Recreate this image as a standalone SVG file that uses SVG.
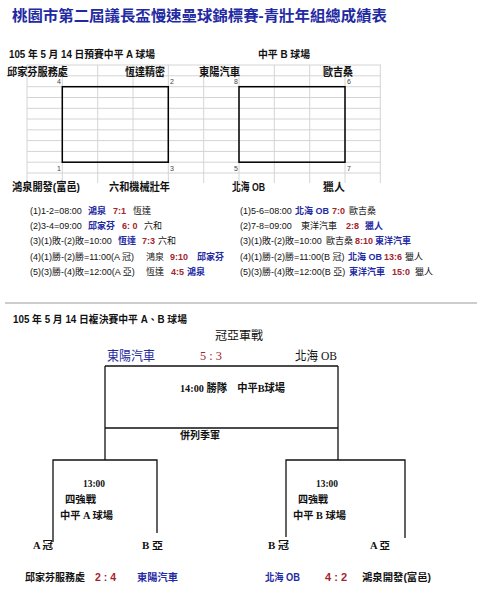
<svg xmlns="http://www.w3.org/2000/svg" width="493" height="600" viewBox="0 0 493 600">
<style>
text{font-family:"Liberation Sans","Noto Sans CJK TC",sans-serif;fill:#111}
.s{font-family:"Liberation Serif","Noto Sans CJK TC",serif}
.b{font-weight:bold}
.bl{fill:#1f2aa3}
.rd{fill:#a3252d}
.r{font-size:9px}
.n{font-size:7px;fill:#444}
.g{stroke:#d4d4d4;stroke-width:1;fill:none}
.box{stroke:#000;stroke-width:1.5;fill:none}
.ln{stroke:#111;stroke-width:1.3;fill:none}
</style>
<rect width="493" height="600" fill="#fff"/>
<g id="title"><text x="12" y="20.5" class="b bl" font-size="15" textLength="375" lengthAdjust="spacingAndGlyphs">桃園市第二屆議長盃慢速壘球錦標賽-青壯年組總成績表</text></g>
<g id="prelim-header">
<text x="9" y="58" class="b" font-size="10.5" textLength="146" lengthAdjust="spacingAndGlyphs">105 年 5 月 14 日預賽中平 A 球場</text>
<text x="258" y="58" class="b" font-size="10.5" textLength="52" lengthAdjust="spacingAndGlyphs">中平 B 球場</text>
</g>
<g id="grid">
<path class="g" d="M27 65H381M27 75.8H381M27 86.7H381M27 97.5H381M27 108.3H381M27 119H381M27 129.8H381M27 140.6H381M27 151.4H381M27 162.2H381M27 173H381"/>
<path class="g" d="M27 65V183M62.3 65V183M97.7 65V183M133 65V183M168.3 65V183M203.7 65V183M239 65V183M274.3 65V183M309.7 65V183M345 65V183M380.3 65V183"/>
</g>
<g id="groupA">
<rect class="box" x="62.3" y="86.7" width="106" height="75.5"/>
<text x="7" y="76" class="b" font-size="11" textLength="61" lengthAdjust="spacingAndGlyphs">邱家芬服務處</text>
<text x="125" y="76" class="b" font-size="11" textLength="40" lengthAdjust="spacingAndGlyphs">恆達精密</text>
<text x="12" y="191" class="b" font-size="11" textLength="68" lengthAdjust="spacingAndGlyphs">鴻泉開發(富邑)</text>
<text x="109" y="191" class="b" font-size="11" textLength="61" lengthAdjust="spacingAndGlyphs">六和機械壯年</text>
<text x="61" y="84" class="n" text-anchor="end">4</text>
<text x="170" y="84" class="n">2</text>
<text x="61" y="171" class="n" text-anchor="end">1</text>
<text x="170" y="171" class="n">3</text>
</g>
<g id="groupB">
<rect class="box" x="239" y="86.7" width="106" height="75.5"/>
<text x="199" y="76" class="b" font-size="11" textLength="41" lengthAdjust="spacingAndGlyphs">東陽汽車</text>
<text x="323" y="76" class="b" font-size="11" textLength="30" lengthAdjust="spacingAndGlyphs">歐吉桑</text>
<text x="232" y="191" class="b" font-size="11" textLength="33" lengthAdjust="spacingAndGlyphs">北海 OB</text>
<text x="323" y="191" class="b" font-size="11" textLength="22" lengthAdjust="spacingAndGlyphs">獵人</text>
<text x="238" y="84" class="n" text-anchor="end">8</text>
<text x="347" y="84" class="n">6</text>
<text x="238" y="171" class="n" text-anchor="end">5</text>
<text x="347" y="171" class="n">7</text>
</g>
<g id="resultsA">
<text y="213.5" class="r"><tspan x="30">(1)1-2=08:00</tspan><tspan x="88" class="b bl">鴻泉</tspan><tspan x="113" class="b rd">7:1</tspan><tspan x="133">恆達</tspan></text>
<text y="228.5" class="r"><tspan x="30">(2)3-4=09:00</tspan><tspan x="88" class="b bl">邱家芬</tspan><tspan x="122" class="b rd">6: 0</tspan><tspan x="144">六和</tspan></text>
<text y="243.5" class="r"><tspan x="30">(3)(1)敗-(2)敗=10:00</tspan><tspan x="118" class="b bl">恆達</tspan><tspan x="142" class="b rd">7:3</tspan><tspan x="158">六和</tspan></text>
<text y="259.5" class="r"><tspan x="30">(4)(1)勝-(2)勝=11:00(A 冠)</tspan><tspan x="146">鴻泉</tspan><tspan x="170" class="b rd">9:10</tspan><tspan x="197" class="b bl">邱家芬</tspan></text>
<text y="275" class="r"><tspan x="30">(5)(3)勝-(4)敗=12:00(A 亞)</tspan><tspan x="146">恆達</tspan><tspan x="171" class="b rd">4:5</tspan><tspan x="187" class="b bl">鴻泉</tspan></text>
</g>
<g id="resultsB">
<text y="213.5" class="r"><tspan x="240">(1)5-6=08:00</tspan><tspan x="295" class="b bl">北海 OB</tspan><tspan x="332" class="b rd">7:0</tspan><tspan x="349">歐吉桑</tspan></text>
<text y="228.5" class="r"><tspan x="240">(2)7-8=09:00</tspan><tspan x="301">東洋汽車</tspan><tspan x="346" class="b rd">2:8</tspan><tspan x="365" class="b bl">獵人</tspan></text>
<text y="243.5" class="r"><tspan x="240">(3)(1)敗-(2)敗=10:00</tspan><tspan x="326">歐吉桑</tspan><tspan x="355" class="b rd">8:10</tspan><tspan x="375" class="b bl">東洋汽車</tspan></text>
<text y="259.5" class="r"><tspan x="240">(4)(1)勝-(2)勝=11:00(B 冠)</tspan><tspan x="348" class="b bl">北海 OB</tspan><tspan x="384" class="b rd">13:6</tspan><tspan x="405">獵人</tspan></text>
<text y="275" class="r"><tspan x="240">(5)(3)勝-(4)敗=12:00(B 亞)</tspan><tspan x="349" class="b bl">東洋汽車</tspan><tspan x="392" class="b rd">15:0</tspan><tspan x="415">獵人</tspan></text>
</g>
<g id="separator"><path d="M5 303H477" stroke="#9a9a9a" stroke-width="1"/></g>
<g id="final-header"><text x="13" y="322.5" class="b" font-size="10" textLength="174" lengthAdjust="spacingAndGlyphs">105 年 5 月 14 日複決賽中平 A、B 球場</text></g>
<g id="connectors">
<path class="ln" d="M105 366H338M105 366V460M338 366V460M105 428H338"/>
<path class="ln" d="M53 542V460H157V533"/>
<path class="ln" d="M286 537V460H405V538"/>
</g>
<g id="final">
<text x="215" y="339.5" class="s" font-size="12" textLength="48" lengthAdjust="spacingAndGlyphs">冠亞軍戰</text>
<text x="107" y="360" class="s bl" font-size="13" textLength="48" lengthAdjust="spacingAndGlyphs">東陽汽車</text>
<text x="200" y="360" class="s rd" font-size="13" textLength="22" lengthAdjust="spacingAndGlyphs">5 : 3</text>
<text x="295" y="360" class="s" font-size="13" textLength="42" lengthAdjust="spacingAndGlyphs">北海 OB</text>
<text x="180" y="392" class="s b" font-size="11" textLength="105" lengthAdjust="spacingAndGlyphs">14:00 勝隊　中平B球場</text>
<text x="180" y="439" class="s b" font-size="10" textLength="40" lengthAdjust="spacingAndGlyphs">併列季軍</text>
</g>
<g id="semiA">
<text x="83" y="487" class="s b" font-size="10" textLength="22" lengthAdjust="spacingAndGlyphs">13:00</text>
<text x="65" y="503" class="s b" font-size="10" textLength="31" lengthAdjust="spacingAndGlyphs">四強戰</text>
<text x="60" y="519" class="s b" font-size="10" textLength="53" lengthAdjust="spacingAndGlyphs">中平 A 球場</text>
<text x="33" y="549" class="s b" font-size="10" textLength="20" lengthAdjust="spacingAndGlyphs">A 冠</text>
<text x="142" y="549" class="s b" font-size="10" textLength="21" lengthAdjust="spacingAndGlyphs">B 亞</text>
<text x="25" y="581" class="b" font-size="10" textLength="60" lengthAdjust="spacingAndGlyphs">邱家芬服務處</text>
<text x="95" y="581" class="b rd" font-size="11" textLength="21" lengthAdjust="spacingAndGlyphs">2 : 4</text>
<text x="137" y="581" class="b bl" font-size="10" textLength="41" lengthAdjust="spacingAndGlyphs">東陽汽車</text>
</g>
<g id="semiB">
<text x="316" y="487" class="s b" font-size="10" textLength="22" lengthAdjust="spacingAndGlyphs">13:00</text>
<text x="298" y="503" class="s b" font-size="10" textLength="30" lengthAdjust="spacingAndGlyphs">四強戰</text>
<text x="293" y="519" class="s b" font-size="10" textLength="53" lengthAdjust="spacingAndGlyphs">中平 B 球場</text>
<text x="268" y="549" class="s b" font-size="10" textLength="21" lengthAdjust="spacingAndGlyphs">B 冠</text>
<text x="370" y="549" class="s b" font-size="10" textLength="20" lengthAdjust="spacingAndGlyphs">A 亞</text>
<text x="265" y="581" class="b bl" font-size="10" textLength="35" lengthAdjust="spacingAndGlyphs">北海 OB</text>
<text x="325" y="581" class="b rd" font-size="11" textLength="22" lengthAdjust="spacingAndGlyphs">4 : 2</text>
<text x="362" y="581" class="b" font-size="10" textLength="69" lengthAdjust="spacingAndGlyphs">鴻泉開發(富邑)</text>
</g>
</svg>
